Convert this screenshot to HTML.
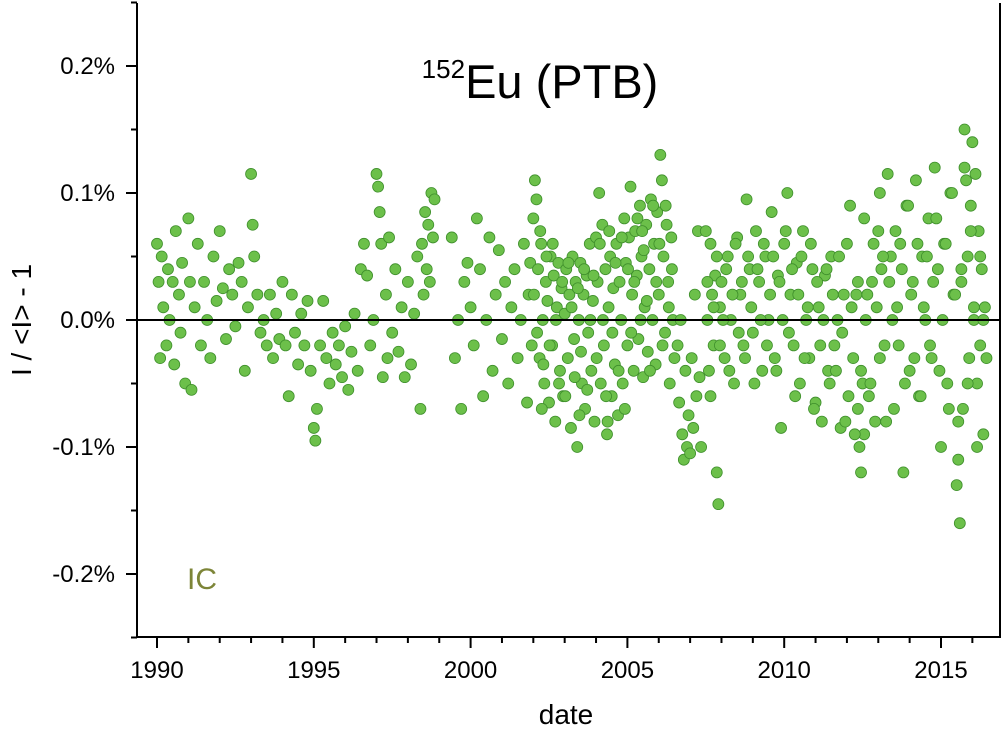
<!DOCTYPE html>
<html><head><meta charset="utf-8"><style>
html,body{margin:0;padding:0;background:#fff;}
svg{display:block;font-family:"Liberation Sans",Arial,sans-serif;}
</style></head><body>
<svg id="chart" width="1004" height="731" viewBox="0 0 1004 731">
<g id="marks"></g>
<g id="axes"></g>
<text x="540" y="98" text-anchor="middle" font-size="47"><tspan font-size="26" dy="-20">152</tspan><tspan dy="20">Eu (PTB)</tspan></text>
<text x="187" y="589" font-size="30" fill="#7d8538">IC</text>
<text x="566" y="724" text-anchor="middle" font-size="28">date</text>
<text transform="translate(31,320) rotate(-90)" text-anchor="middle" font-size="28">I / &lt;I&gt; - 1</text>
</svg>
<script>
const dates = [
1990.0,1990.05,1990.1,1990.15,1990.2,1990.3,1990.35,1990.4,1990.5,1990.55,
1990.6,1990.7,1990.75,1990.8,1990.9,1991.0,1991.05,1991.1,1991.2,1991.3,
1991.4,1991.5,1991.6,1991.7,1991.8,1991.9,1992.0,1992.1,1992.2,1992.3,
1992.4,1992.5,1992.6,1992.7,1992.8,1992.9,1993.0,1993.05,1993.1,1993.2,
1993.3,1993.4,1993.5,1993.6,1993.7,1993.8,1993.9,1994.0,1994.1,1994.2,
1994.3,1994.4,1994.5,1994.6,1994.7,1994.8,1994.9,1995.0,1995.05,1995.1,
1995.2,1995.3,1995.4,1995.5,1995.6,1995.7,1995.8,1995.9,1996.0,1996.1,
1996.2,1996.3,1996.4,1996.5,1996.6,
1996.7,1996.8,1996.9,1997.0,1997.05,1997.1,1997.15,1997.2,1997.3,1997.35,
1997.4,1997.5,1997.6,1997.7,1997.8,1997.9,1998.0,1998.1,1998.2,1998.3,
1998.4,1998.45,1998.5,1998.55,1998.6,1998.65,1998.7,1998.75,1998.8,1998.85,
1999.4,1999.5,1999.6,1999.7,1999.8,1999.9,2000.0,2000.1,2000.2,2000.3,
2000.4,2000.5,2000.6,2000.7,2000.8,2000.9,2001.0,2001.1,2001.2,2001.3,
2001.4,2001.5,2001.6,2001.7,2001.8,2001.85,2001.9,2001.95,2002.0,2002.05,
2002.1,2002.15,2002.2,2002.25,2002.3,2002.35,2002.4,2002.45,2002.5,2002.55,
2002.6,2002.65,2002.7,2002.75,2002.8,2002.85,2002.9,2002.95,2003.0,2003.05,
2003.1,2003.15,2003.2,2003.25,2003.3,2003.35,2003.4,2003.45,2003.5,2003.55,
2003.6,2003.65,2003.7,2003.75,2003.8,2003.85,2003.9,2003.95,2004.0,2004.05,
2004.1,2004.15,2004.2,2004.25,2004.3,2004.35,2004.4,2004.45,2004.5,2004.55,
2004.6,2004.65,2004.7,2004.75,2004.8,2004.85,2004.9,2004.95,2005.0,2005.05,
2005.1,2005.15,2005.2,2005.25,2005.3,2005.35,2005.4,2005.45,2005.5,2005.55,
2005.6,2005.65,2005.7,2005.75,2005.8,2005.85,2005.9,2005.95,2006.0,2006.05,
2006.1,2006.15,2006.2,2006.25,2006.3,2006.35,2006.4,2006.45,
2006.6,2006.65,2006.7,2006.75,2006.8,2006.85,2006.9,2006.95,2007.0,2007.05,
2007.1,2007.15,2007.2,2007.25,2007.3,2007.35,
2007.5,2007.55,2007.6,2007.65,2007.7,2007.75,2007.8,2007.85,2007.9,2007.95,
2008.0,2008.1,2008.2,2008.3,2008.4,2008.5,2008.6,2008.7,2008.8,2008.9,
2009.0,2009.1,2009.2,2009.3,2009.4,2009.5,2009.6,2009.7,2009.8,2009.9,
2010.0,2010.1,2010.2,2010.3,2010.4,2010.5,2010.6,2010.7,2010.8,2010.9,
2011.0,2011.1,2011.2,2011.3,2011.4,2011.5,2011.6,2011.7,2011.8,2011.9,
2012.0,2012.1,2012.2,2012.3,2012.35,2012.4,2012.45,2012.5,2012.55,2012.6,
2012.7,2012.8,2012.9,2013.0,2013.05,2013.1,2013.2,2013.3,2013.4,2013.5,
2013.6,2013.7,2013.8,2013.9,2014.0,2014.1,2014.2,2014.3,2014.4,2014.5,
2014.6,2014.7,2014.8,2014.9,2015.0,2015.1,2015.2,2015.3,2015.4,2015.5,
2015.55,2015.6,2015.65,2015.7,2015.75,2015.8,2015.85,2015.9,2015.95,2016.0,
2016.05,2016.1,2016.15,2016.2,2016.25,2016.3,2016.35,2016.4,
2002.02,2002.12,2002.22,2002.32,2002.42,2002.52,2002.62,2002.72,2002.82,2002.92,
2003.02,2003.12,2003.22,2003.32,2003.42,2003.52,2003.62,2003.72,2003.82,2003.92,
2004.02,2004.12,2004.22,2004.32,2004.42,2004.52,2004.62,2004.72,2004.82,2004.92,
2005.02,2005.12,2005.22,2005.32,2005.42,2005.52,2005.62,2005.72,2005.82,2005.92,
2006.02,2006.12,2006.22,2006.32,2006.42,2006.5,2002.27,2003.47,2004.37,2005.47,
2007.55,2007.65,2007.75,2007.85,2007.95,2008.05,2008.15,2008.25,2008.35,2008.45,
2008.55,2008.65,2008.75,2008.85,2008.95,2009.05,2009.15,2009.25,2009.35,2009.45,
2009.55,2009.65,2009.75,2009.85,2009.95,2010.05,2010.15,2010.25,2010.35,2010.45,
2010.55,2010.65,2010.75,2010.85,2010.95,2011.05,2011.15,2011.25,2011.35,2011.45,
2011.55,2011.65,2011.75,2011.85,2011.95,2012.05,2012.15,2012.25,2012.35,2012.45,
2012.55,2012.65,2012.75,2012.85,2012.95,2013.05,2013.15,2013.25,2013.35,2013.45,
2013.55,2013.65,2013.75,2013.85,2013.95,2014.05,2014.15,2014.25,2014.35,2014.45,
2014.55,2014.65,2014.75,2014.85,2014.95,2015.05,2015.15,2015.25,2015.35,2015.45,
2015.55,2015.65,2015.75,2015.85,2015.95,2016.05,2016.15,2016.25,2016.35,2016.45
];
const values = [
0.06,0.03,-0.03,0.05,0.01,-0.02,0.04,0.0,0.03,-0.035,
0.07,0.02,-0.01,0.045,-0.05,0.08,0.03,-0.055,0.01,0.06,
-0.02,0.03,0.0,-0.03,0.05,0.015,0.07,0.025,-0.015,0.04,
0.02,-0.005,0.045,0.03,-0.04,0.01,0.115,0.075,0.05,0.02,
-0.01,0.0,-0.02,0.02,-0.03,0.005,-0.015,0.03,-0.02,-0.06,
0.02,-0.01,-0.035,0.005,-0.02,0.015,-0.04,-0.085,-0.095,-0.07,
-0.02,0.015,-0.03,-0.05,-0.01,-0.035,-0.02,-0.045,-0.005,-0.055,
-0.025,0.005,-0.04,0.04,0.06,
0.035,-0.02,0.0,0.115,0.105,0.085,0.06,-0.045,0.02,-0.03,
0.065,-0.01,0.04,-0.025,0.01,-0.045,0.03,-0.035,0.005,0.05,
-0.07,0.06,0.02,0.085,0.04,0.075,0.03,0.1,0.065,0.095,
0.065,-0.03,0.0,-0.07,0.03,0.045,0.01,-0.02,0.08,0.04,
-0.06,0.0,0.065,-0.04,0.02,0.055,-0.015,0.03,-0.05,0.01,
0.04,-0.03,0.0,0.06,-0.065,0.02,0.045,-0.02,0.08,0.11,
0.095,0.04,-0.03,0.06,0.0,-0.05,0.03,0.015,-0.065,0.05,
-0.02,0.035,-0.08,0.01,0.045,-0.04,0.025,-0.06,0.005,0.04,
-0.03,0.02,-0.085,0.05,-0.015,0.03,-0.1,0.0,0.045,-0.05,
0.02,-0.07,0.035,-0.01,0.06,-0.04,0.015,-0.08,0.065,0.03,
0.1,-0.05,0.075,-0.02,0.04,-0.09,0.01,0.05,-0.06,0.025,
-0.035,0.06,-0.075,0.03,0.0,-0.05,0.08,0.045,-0.02,0.065,
0.105,0.02,-0.04,0.07,0.035,-0.015,0.09,0.05,-0.045,0.01,
0.075,-0.025,0.04,0.095,0.0,0.06,-0.035,0.085,0.02,0.13,
0.11,0.05,-0.01,0.075,0.03,-0.05,0.065,0.0,
-0.02,-0.065,0.0,-0.09,-0.11,-0.04,-0.1,-0.075,-0.105,-0.03,
-0.085,0.02,-0.06,0.07,-0.045,-0.1,
0.07,0.0,-0.04,0.06,0.02,-0.02,0.035,-0.12,-0.145,0.01,
0.03,-0.03,0.05,0.0,-0.05,0.065,0.02,-0.02,0.095,0.04,
-0.01,0.07,0.03,-0.04,0.05,0.0,0.085,-0.03,0.035,-0.085,
0.06,0.1,0.02,-0.02,0.045,-0.05,0.07,0.0,-0.03,0.04,
-0.065,0.01,-0.08,0.035,-0.04,0.05,-0.02,0.0,-0.085,0.02,
0.06,0.09,-0.03,0.02,-0.07,-0.1,-0.12,-0.05,-0.09,0.0,
-0.06,0.03,-0.08,0.07,0.1,0.04,-0.02,0.115,0.05,-0.07,
0.01,0.06,-0.12,0.09,-0.04,0.03,0.11,-0.06,0.05,0.0,
0.08,-0.03,0.12,0.04,-0.1,0.06,-0.05,0.1,0.02,-0.13,
-0.11,-0.16,0.03,-0.07,0.15,0.11,0.05,-0.03,0.09,0.14,
0.0,0.115,-0.05,0.07,-0.02,0.04,-0.09,0.01,
0.02,-0.01,0.07,-0.035,0.05,-0.02,0.06,0.0,-0.05,0.03,
-0.06,0.045,0.01,-0.045,0.025,-0.025,0.04,-0.055,0.0,0.035,
-0.03,0.06,0.0,-0.06,0.07,-0.01,0.045,-0.04,0.065,-0.07,
0.04,-0.01,0.03,0.08,0.0,0.055,0.015,-0.04,0.09,0.03,
0.06,-0.02,0.09,0.01,0.04,-0.03,-0.07,-0.075,-0.08,0.07,
0.03,-0.06,0.01,0.05,-0.02,0.0,0.04,-0.04,0.02,0.06,
-0.01,0.03,-0.03,0.05,0.01,-0.05,0.04,0.0,0.06,-0.02,
0.02,0.05,-0.04,0.03,0.0,0.07,-0.01,0.04,-0.06,0.02,
0.05,-0.03,0.01,0.06,-0.07,0.03,-0.02,0.0,0.04,-0.05,
0.02,-0.04,0.05,-0.01,-0.08,-0.06,0.01,-0.09,0.03,-0.04,
0.08,0.02,-0.05,0.06,0.01,-0.03,0.05,-0.08,0.03,0.0,
0.07,-0.02,0.04,-0.05,0.09,0.02,-0.03,0.06,-0.06,0.01,
0.05,-0.02,0.03,0.08,-0.04,0.0,0.06,-0.07,0.1,0.02,
-0.08,0.04,0.12,-0.05,0.07,0.01,-0.1,0.05,0.0,-0.03
];
const xTicks = [1990,1995,2000,2005,2010,2015];
const xTickLabels = ["1990","1995","2000","2005","2010","2015"];
const yTicks = [0.2,0.1,0,-0.1,-0.2];
const yTickLabels = ["0.2%","0.1%","0.0%","-0.1%","-0.2%"];
const yMinorTicks = [0.25,0.15,0.05,-0.05,-0.15,-0.25];

const L=137,R=1000,T=3,B=637;
function xs(d){return 157+(d-1990)*31.36;}
function ys(v){return 320-v*1270;}
const NS='http://www.w3.org/2000/svg';
function mk(tag,attrs,parent){const e=document.createElementNS(NS,tag);for(const k in attrs)e.setAttribute(k,attrs[k]);parent.appendChild(e);return e;}
const marks=document.getElementById('marks');
const axes=document.getElementById('axes');
for(let i=0;i<dates.length;i++){
  const c=mk('circle',{cx:xs(dates[i]),cy:ys(values[i]),r:5.5,fill:'#6cc04a',stroke:'#3f8f2c','stroke-width':0.8},marks);
  
  
}
const zl=mk('line',{x1:L,x2:R,y1:ys(0),y2:ys(0),stroke:'#000','stroke-width':2},axes);


const fr=mk('path',{d:`M${L},${T}V${B}H${R}V${T}`,fill:'none',stroke:'#000','stroke-width':2},axes);


for(let y=1990;y<=2016;y++){
  const major=(y%5===0);
  mk('line',{x1:xs(y),x2:xs(y),y1:B,y2:B+(major?11:6),stroke:'#000','stroke-width':2},axes);
}
xTicks.forEach((t,i)=>{
  const tx=mk('text',{x:xs(t),y:678,'text-anchor':'middle','font-size':24},axes);
  tx.textContent=xTickLabels[i];
  
  
});
yMinorTicks.forEach(t=>{
  mk('line',{x1:L-6,x2:L,y1:ys(t),y2:ys(t),stroke:'#000','stroke-width':2},axes);
});
yTicks.forEach((t,i)=>{
  const tk=mk('line',{x1:L-11,x2:L,y1:ys(t),y2:ys(t),stroke:'#000','stroke-width':2},axes);
  const tx=mk('text',{x:L-22,y:ys(t)+8,'text-anchor':'end','font-size':24},axes);
  tx.textContent=yTickLabels[i];
  
  
});
</script>
</body></html>
